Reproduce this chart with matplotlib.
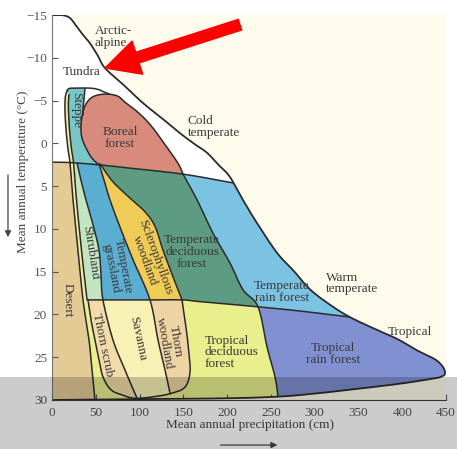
import numpy as np
import matplotlib
matplotlib.use('Agg')
import matplotlib.pyplot as plt
from matplotlib.patches import Polygon, PathPatch, Rectangle
from matplotlib.path import Path

plt.rcParams['font.family'] = ['Liberation Serif', 'DejaVu Serif']

# boundaries: (precipitation cm, temperature C)
envelope = [(0, -15), (10, -15), (17, -14.85), (22, -14.5), (28.6, -13.6), (36, -12.6),
            (43.4, -11.7), (52, -10.3), (60.5, -8.8), (82, -6.8), (104, -4.7), (126, -2.9),
            (146, -1.2), (163, 0.1), (177, 1.1), (191, 2.6), (203, 3.9), (218, 6.6),
            (234, 9.3), (257, 12.8), (276, 14.9), (295, 17.1), (318, 18.9), (340, 20.3),
            (371, 21.8), (395, 22.9), (417, 24.2), (435, 25.1), (443, 25.7), (448, 26.4),
            (448.6, 27.0), (444, 27.3), (435, 27.5), (397, 28.1), (340, 28.8), (300, 29.25),
            (260, 29.6), (200, 29.8), (97, 29.9), (0, 30)]
t1 = [(-10, 2.15), (0, 2.2), (20.6, 2.25), (52.5, 2.5), (89.1, 2.9), (149.6, 3.6),
      (205.6, 4.6), (240, 5.2), (300, 6.2), (400, 7.6), (480, 8.7)]
t2 = [(-10, 18.3), (41.1, 18.3), (80, 18.3), (111.9, 18.3), (148.5, 18.3), (169, 18.5),
      (234.1, 19.1), (283.2, 19.6), (340.3, 20.3), (400, 21.0), (480, 22.0)]
desert_edge = [(17, -6.1), (15.2, -5.4), (14.8, -3.9), (16, -1.6), (18.3, 0.7), (20.6, 2.3),
               (24, 6.6), (29.7, 12.5), (35.4, 18.3), (42.3, 23), (45.7, 26.5), (49.1, 30),
               (49.6, 31)]
loop_top = [(17, -6.1), (19.4, -6.4), (26.3, -6.45), (43.4, -6.45), (52.5, -6.3),
            (59.4, -6.0), (66, -5.75)]
strip_edge = [(19.5, -5.7), (18.8, -5.0), (18.8, -3.9), (20, -1.6), (22.3, 0.7),
              (24.6, 2.3), (28, 6.6), (33.7, 12.5), (40, 18.3)]
steppe_edge = [(37.7, -6.45), (36.5, -5.1), (35.4, -4.1), (35.4, -3.3)]
boreal = [(53.7, 2.5), (47, 1.9), (41.1, 1.0), (34.3, -0.6), (33.1, -2.1), (35.4, -3.7),
          (38.8, -4.6), (44.5, -5.3), (52.5, -5.65), (64, -5.75), (75.4, -5.5), (83.4, -4.8),
          (95, -3.9), (106.2, -2.85), (116, -1.7), (124.5, -0.5), (133, 0.7), (140.5, 1.8),
          (146, 2.7), (149.6, 3.6)]
c1 = [(28.6, 2.3), (33.1, 4.3), (38.8, 6.6), (46.8, 9.5), (53.7, 12.5), (56, 15.4),
      (58.2, 18.3), (69.7, 23), (83.4, 26.5), (97.1, 29.8)]
c2 = [(53.7, 2.4), (59.4, 4.3), (66.2, 6.6), (77.7, 9.8), (92.5, 13.6), (111.9, 18.3),
      (121.1, 23), (129.1, 26.5), (134.8, 29.2)]
c3 = [(54.8, 2.4), (69.7, 4.5), (89.1, 6.4), (106.2, 8.0), (117.6, 9.7), (126.8, 12.5),
      (138.2, 15.6), (148.5, 18.3)]
c4 = [(149.6, 3.6), (165.6, 6.6), (183.9, 10.5), (203.3, 14.0), (218.1, 17.1),
      (235.3, 19.1), (245.6, 23.8), (254.7, 27.3), (258.1, 29.6), (259, 31)]
thorn_loop = [(41.1, 18.3), (44.5, 20.6), (49.1, 23), (53.7, 25.3), (58.2, 27.3),
              (67.3, 28.8), (79.9, 29.4), (94.8, 29.8), (117.6, 29.6), (137.1, 29.2),
              (151.9, 28.5), (157.6, 26.8), (156.4, 24.5), (154.2, 22.4), (150.8, 20.0),
              (148.5, 18.3)]

colors = {
    'bg': '#fffced', 'desert': '#e4cb96', 'strip': '#f4ec9c', 'shrub': '#c3e4c0',
    'steppe': '#79c6c6', 'grass': '#5aaed1', 'sclero': '#f0cc57', 'decid': '#5d9c82',
    'temprain': '#7cc3e3', 'boreal': '#d88b7c', 'thornscrub': '#f2dba8',
    'savanna': '#f7f2b4', 'thornwood': '#efd4a3', 'tropdecid': '#e8ef8c',
    'troprain': '#8090d0',
}

labels = [
    ('Arctic-\nalpine', 49.1, -12.4, 0, 'left'),
    ('Tundra', 34.3, -8.3, 0, 'center'),
    ('Cold\ntemperate', 155.3, -1.9, 0, 'left'),
    ('Boreal\nforest', 77.7, -0.6, 0, 'center'),
    ('Steppe', 27.5, -3.9, -90, 'center'),
    ('Shrubland', 43.4, 12.8, -81, 'center'),
    ('Desert', 18.3, 18.3, -90, 'center'),
    ('Temperate\ngrassland', 74.2, 14.5, -79, 'center'),
    ('Sclerophyllous\nwoodland', 111.9, 13.5, -70, 'center'),
    ('Temperate\ndeciduous\nforest', 159.9, 12.7, 0, 'center'),
    ('Thorn scrub', 58.2, 23.6, -78, 'center'),
    ('Savanna', 97.7, 22.8, -78, 'center'),
    ('Thorn\nwoodland', 134.8, 23.3, -80, 'center'),
    ('Temperate\nrain forest', 262.7, 17.4, 0, 'center'),
    ('Warm\ntemperate', 312.9, 16.4, 0, 'left'),
    ('Tropical', 408.9, 22.05, 0, 'center'),
    ('Tropical\nrain forest', 320.9, 24.6, 0, 'center'),
    ('Tropical\ndeciduous\nforest', 174.7, 24.4, 0, 'left'),
]

xticks = [0, 50, 100, 150, 200, 250, 300, 350, 400, 450]
yticks = [-15, -10, -5, 0, 5, 10, 15, 20, 25, 30]


def smooth(pts, n=12):
    p = np.asarray(pts, float)
    q = np.vstack([2 * p[0] - p[1], p, 2 * p[-1] - p[-2]])
    t = np.linspace(0, 1, n, endpoint=False)[:, None]
    out = []
    for i in range(1, len(q) - 2):
        p0, p1, p2, p3 = q[i - 1], q[i], q[i + 1], q[i + 2]
        out.append(0.5 * (2 * p1 + (p2 - p0) * t + (2 * p0 - 5 * p1 + 4 * p2 - p3) * t ** 2
                          + (3 * p1 - p0 - 3 * p2 + p3) * t ** 3))
    out.append(p[-1:])
    return np.vstack(out)


fig = plt.figure(figsize=(4.57, 4.49), dpi=100)
ax = fig.add_axes([52 / 457, 49 / 449, 394 / 457, 385 / 449])
ax.set_xlim(0, 450)
ax.set_ylim(30, -15)
ax.set_facecolor(colors['bg'])

env = smooth(envelope)
T1 = smooth(t1)
T2 = smooth(t2)
D = smooth(desert_edge)
S = smooth(strip_edge)
C1, C2, C3, C4 = smooth(c1), smooth(c2), smooth(c3), smooth(c4)
LOOP = smooth(thorn_loop)
BOR = smooth(boreal)
TOP = smooth(loop_top)
STE = smooth(steppe_edge)


def clip_poly(pts):
    return Polygon(pts, closed=True, transform=ax.transData)


band_a = clip_poly(np.vstack([T1, [[480, -30], [-10, -30]]]))
band_low = clip_poly(np.vstack([T1, [[480, 40], [-10, 40]]]))
band_b = clip_poly(np.vstack([T1, T2[::-1]]))
band_c = clip_poly(np.vstack([T2, [[480, 40], [-10, 40]]]))
band_up = clip_poly(np.vstack([T2, [[480, -30], [-10, -30]]]))
loop_clip = clip_poly(LOOP)


def fill(pts, color, clip=None):
    p = Polygon(pts, closed=True, facecolor=color, edgecolor='none', zorder=1)
    ax.add_patch(p)
    if clip is not None:
        p.set_clip_path(clip)


def right_of(c):
    return np.vstack([[[c[0][0], -30]], c, [[c[-1][0], 40], [500, 40], [500, -30]]])


def left_of(c):
    return np.vstack([[[c[0][0], -30]], c, [[c[-1][0], 40], [-20, 40], [-20, -30]]])


# tundra base
fill(np.vstack([env, [[0, -15]]]), 'white')

# temperate band
fill(right_of(S), colors['shrub'], band_b)
fill(right_of(C1), colors['grass'], band_b)
fill(right_of(C2), colors['sclero'], band_b)
fill(right_of(C3), colors['decid'], band_b)
fill(right_of(C4), colors['temprain'], band_b)

# tropical band
fill(right_of(D), colors['tropdecid'], band_c)
fill(right_of(C4), colors['troprain'], band_c)
fill(LOOP, colors['thornscrub'])
fill(right_of(C1), colors['savanna'], loop_clip)
fill(right_of(C2), colors['thornwood'], loop_clip)

# desert
fill(left_of(D), colors['desert'], band_low)

# steppe and boreal forest
steppe = np.vstack([np.asarray(loop_top[:4]), STE,
                    [[45, -2.5], [60, -2], [60, 8]], D[::-1]])
fill(steppe, colors['steppe'], band_a)
fill(np.vstack([BOR, [[149.6, 8], [53.7, 8]]]), colors['boreal'], band_a)
fill(np.vstack([D, S[::-1]]), colors['strip'], band_up)

# boundary lines
lc = '#2b2b2b'
lw = 1.1
for c in [D, S, TOP, STE, BOR, C1, C2, C3, C4, LOOP]:
    ax.plot(c[:, 0], c[:, 1], color=lc, lw=lw, zorder=2, solid_capstyle='round')
t1_line = T1[T1[:, 0] >= 0]
ax.plot(t1_line[:, 0], t1_line[:, 1], color=lc, lw=lw, zorder=2)
t2_line = T2[T2[:, 0] >= 41.1]
ax.plot(t2_line[:, 0], t2_line[:, 1], color=lc, lw=lw, zorder=2)

# mask everything outside the climate envelope
outer = np.array([[-20, -30], [500, -30], [500, 40], [-20, 40], [-20, -30]])
inner = np.vstack([env, [[0, -15]]])


def area(p):
    return 0.5 * np.sum(p[:-1, 0] * p[1:, 1] - p[1:, 0] * p[:-1, 1])


if np.sign(area(outer)) == np.sign(area(inner)):
    inner = inner[::-1]
verts = np.vstack([outer, inner])
codes = ([Path.MOVETO] + [Path.LINETO] * (len(outer) - 2) + [Path.CLOSEPOLY]
         + [Path.MOVETO] + [Path.LINETO] * (len(inner) - 2) + [Path.CLOSEPOLY])
ax.add_patch(PathPatch(Path(verts, codes), facecolor=colors['bg'], edgecolor='none', zorder=2.2))
ax.plot(env[:, 0], env[:, 1], color=lc, lw=1.3, zorder=2.3)

for text, x, y, rot, ha in labels:
    ax.text(x, y, text, rotation=rot, ha=ha, va='center', fontsize=9.5,
            color='#3a3a3a', linespacing=0.95, rotation_mode='anchor', zorder=3)

# red pointer to the tundra
ax.annotate('', xy=(60.5, -8.8), xytext=(214.7, -13.87),
            arrowprops=dict(arrowstyle='simple,head_length=0.98,head_width=1.0,tail_width=0.32',
                            color='#ff0000', mutation_scale=25, shrinkA=0, shrinkB=0),
            zorder=4)

ax.set_xticks(xticks)
ax.set_yticks(yticks)
ax.tick_params(direction='in', length=4, width=0.8, color='#555555', labelcolor='#555555',
               labelsize=9.5)
ax.tick_params(axis='x', pad=5)
for side in ['top', 'right']:
    ax.spines[side].set_visible(False)
ax.spines['left'].set_color('#777777')
ax.spines['left'].set_linewidth(0.8)
ax.spines['bottom'].set_color('#444444')

ax.set_xlabel('Mean annual precipitation (cm)', fontsize=9.5, color='#444444')
ax.xaxis.set_label_coords(0.5025, -0.05)
ax.set_ylabel('Mean annual temperature (\u00b0C)', fontsize=9.5, color='#444444')
ax.yaxis.set_label_coords(-0.058, 0.592)

ax.annotate('', xy=(-0.1117, 0.4156), xytext=(-0.1117, 0.592), xycoords='axes fraction',
            arrowprops=dict(arrowstyle='-|>', color='#444444', lw=0.9, mutation_scale=9),
            annotation_clip=False)
ax.annotate('', xy=(0.579, -0.117), xytext=(0.421, -0.117), xycoords='axes fraction',
            arrowprops=dict(arrowstyle='-|>', color='#444444', lw=0.9, mutation_scale=9),
            annotation_clip=False)

# grey band across the bottom of the screenshot
fig.add_artist(Rectangle((0, 0), 1, 72 / 449, transform=fig.transFigure,
                         facecolor='black', alpha=0.2, edgecolor='none', zorder=100))

fig.savefig('out.png', dpi=100)
